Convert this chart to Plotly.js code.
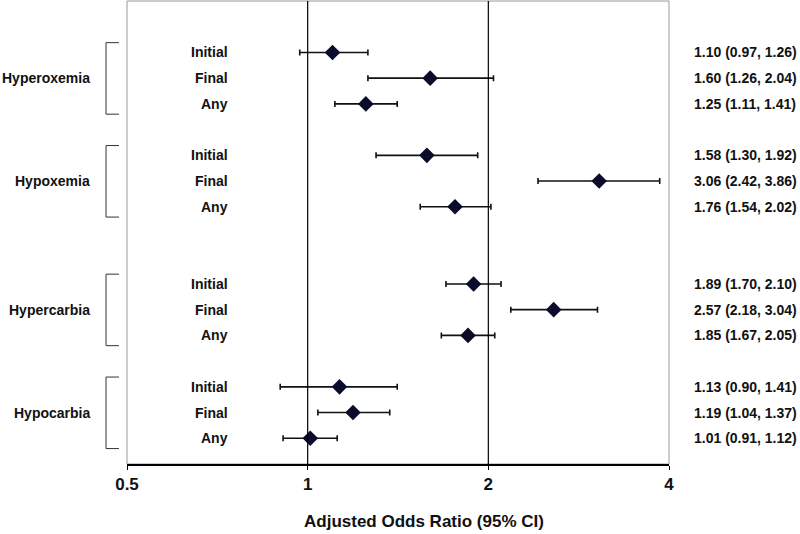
<!DOCTYPE html>
<html>
<head>
<meta charset="utf-8">
<script src="https://cdn.plot.ly/plotly-3.0.1.min.js"></script>
<style>html,body{margin:0;padding:0;background:#fff;}#chart{width:800px;height:534px;}</style>
</head>
<body>
<div id="chart"></div>
<script>
// ---- data ----
var groups = ['Hyperoxemia', 'Hypoxemia', 'Hypercarbia', 'Hypocarbia'];
var timings = ['Initial', 'Final', 'Any'];
var oddsRatio = [1.10, 1.60, 1.25, 1.58, 3.06, 1.76, 1.89, 2.57, 1.85, 1.13, 1.19, 1.01];
var ciLower  = [0.97, 1.26, 1.11, 1.30, 2.42, 1.54, 1.70, 2.18, 1.67, 0.90, 1.04, 0.91];
var ciUpper  = [1.26, 2.04, 1.41, 1.92, 3.86, 2.02, 2.10, 3.04, 2.05, 1.41, 1.37, 1.12];
var xTicks = [0.5, 1, 2, 4];
var xTickLabels = ['0.5', '1', '2', '4'];
var xTitle = 'Adjusted Odds Ratio (95% CI)';

// ---- layout helpers ----
var groupStart = [0, 4, 9, 13];
var rows = [];
groupStart.forEach(function (s) { for (var k = 0; k < timings.length; k++) rows.push(s + k); });

var FONT = 'Liberation Sans, Arial, sans-serif';

var trace = {
  type: 'scatter', mode: 'markers',
  x: oddsRatio, y: rows,
  marker: { symbol: 'diamond', size: 12, color: '#0b0b2b', line: { width: 0 } },
  error_x: {
    type: 'data', symmetric: false,
    array: oddsRatio.map(function (v, i) { return ciUpper[i] - v; }),
    arrayminus: oddsRatio.map(function (v, i) { return v - ciLower[i]; }),
    color: '#111', thickness: 1.6, width: 3
  },
  hoverinfo: 'skip', showlegend: false, cliponaxis: false
};

var annotations = [];
var shapes = [];
var txtFont = { family: FONT, size: 14, color: '#111', weight: 'bold' };

groupStart.forEach(function (s, g) {
  annotations.push({ xref: 'paper', yref: 'y', x: -0.064, y: s + 1, text: groups[g], showarrow: false,
    xanchor: 'right', yanchor: 'middle', font: txtFont });
  // bracket
  var y0 = s - 0.38, y1 = s + 2.4;
  shapes.push({ type: 'path', xref: 'paper', yref: 'y',
    path: 'M -0.0148,' + y0 + ' L -0.0387,' + y0 + ' L -0.0387,' + y1 + ' L -0.0148,' + y1,
    line: { color: '#333', width: 1 } });
  for (var k = 0; k < timings.length; k++) {
    annotations.push({ xref: 'paper', yref: 'y', x: 0.19, y: s + k, text: timings[k], showarrow: false,
      xanchor: 'right', yanchor: 'middle', font: txtFont });
  }
});

rows.forEach(function (r, i) {
  annotations.push({ xref: 'paper', yref: 'y', x: 1.0424, y: r, showarrow: false,
    text: oddsRatio[i].toFixed(2) + ' (' + ciLower[i].toFixed(2) + ', ' + ciUpper[i].toFixed(2) + ')',
    xanchor: 'left', yanchor: 'middle', font: txtFont });
});

// axis title (offset to the right as in the reference)
annotations.push({ xref: 'paper', yref: 'paper', x: 0.548, y: -0.125, text: xTitle, showarrow: false,
  xanchor: 'center', yanchor: 'middle', font: { family: FONT, size: 17, color: '#111', weight: 'bold' } });

// reference lines at 1 and 2
[1, 2].forEach(function (v) {
  shapes.push({ type: 'line', xref: 'x', yref: 'paper', x0: v, x1: v, y0: 0, y1: 1,
    line: { color: '#000', width: 1.2 } });
});
// plot frame
shapes.push({ type: 'rect', xref: 'paper', yref: 'paper', x0: 0, x1: 1, y0: 0, y1: 1,
  line: { color: '#999', width: 1 }, layer: 'below' });

var layout = {
  width: 800, height: 534,
  margin: { l: 127, r: 131, t: 1, b: 70 },
  paper_bgcolor: '#fff', plot_bgcolor: '#fff',
  showlegend: false,
  xaxis: {
    type: 'log', range: [Math.log10(0.5), Math.log10(4)],
    tickvals: xTicks, ticktext: xTickLabels,
    showgrid: false, zeroline: false,
    showline: true, linecolor: '#000', linewidth: 1.5,
    ticks: 'outside', ticklen: 4, tickcolor: '#000', tickwidth: 1,
    tickfont: { family: FONT, size: 17, color: '#111', weight: 'bold' },
    fixedrange: true
  },
  yaxis: {
    range: [16, -2], showgrid: false, zeroline: false, showticklabels: false,
    showline: false, ticks: '', fixedrange: true
  },
  annotations: annotations,
  shapes: shapes
};

Plotly.newPlot('chart', [trace], layout, { displayModeBar: false, staticPlot: true });
</script>
</body>
</html>
